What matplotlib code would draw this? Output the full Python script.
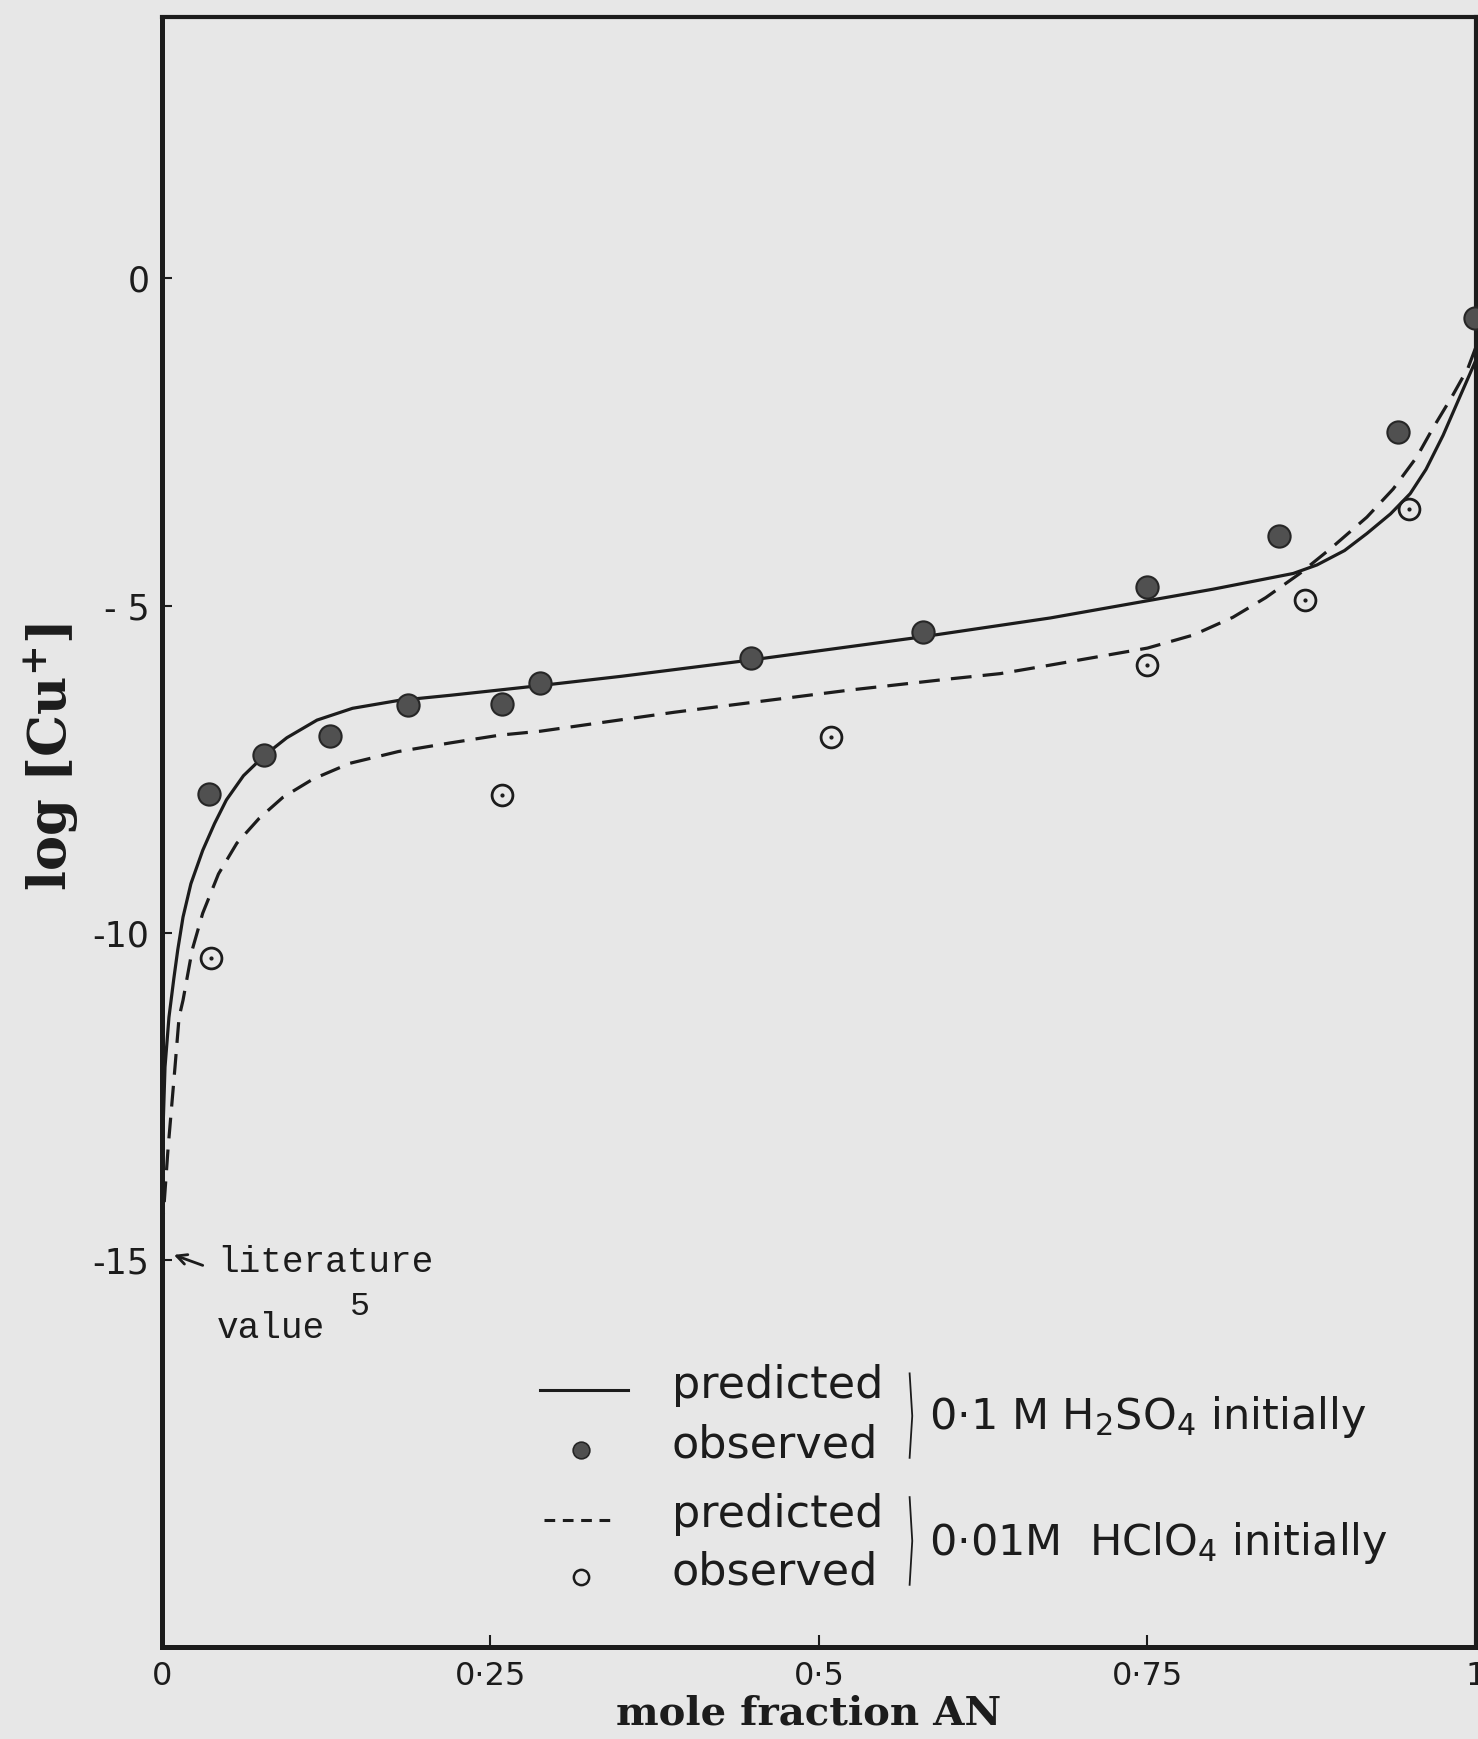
'''log[Cu+] against mole fraction of AN: predicted curves and observed points
for the two starting acid solutions (recreated from a scanned thesis figure)'''

import matplotlib
matplotlib.use('Agg')
import matplotlib.pyplot as plt

# predicted curve, 0.1M H2SO4 initially (solid)
pred_h2so4_x = [0.0, 0.0008, 0.0023, 0.0053, 0.009, 0.012, 0.016, 0.022, 0.031, 0.040,
                0.049, 0.062, 0.078, 0.095, 0.118, 0.145, 0.18, 0.22, 0.257, 0.289,
                0.35, 0.449, 0.578, 0.676, 0.752, 0.80, 0.861, 0.879, 0.90, 0.917,
                0.935, 0.950, 0.962, 0.975, 0.988, 1.0]
pred_h2so4_y = [-14.3, -13.0, -12.05, -11.29, -10.7, -10.26, -9.76, -9.25, -8.74, -8.33,
                -7.97, -7.60, -7.29, -7.02, -6.75, -6.57, -6.45, -6.37, -6.29, -6.22,
                -6.08, -5.83, -5.48, -5.19, -4.92, -4.75, -4.51, -4.38, -4.16, -3.90,
                -3.60, -3.29, -2.92, -2.40, -1.80, -1.25]

# predicted curve, 0.01M HClO4 initially (dashed)
pred_hclo4_x = [0.0, 0.0046, 0.0099, 0.013, 0.016, 0.023, 0.031, 0.043, 0.057, 0.074,
                0.092, 0.115, 0.143, 0.18, 0.219, 0.257, 0.288, 0.390, 0.524, 0.60,
                0.638, 0.676, 0.75, 0.785, 0.815, 0.84, 0.866, 0.89, 0.917, 0.937,
                0.955, 0.967, 0.982, 0.994, 1.0]
pred_hclo4_y = [-14.6, -13.3, -12.05, -11.29, -11.03, -10.26, -9.70, -9.10, -8.63, -8.25,
                -7.93, -7.65, -7.41, -7.23, -7.10, -6.98, -6.92, -6.63, -6.29, -6.12,
                -6.04, -5.91, -5.65, -5.45, -5.18, -4.88, -4.51, -4.12, -3.65, -3.22,
                -2.73, -2.30, -1.80, -1.37, -1.05]

# observed points
obs_h2so4_x = [0.036, 0.078, 0.128, 0.187, 0.259, 0.288, 0.448, 0.579, 0.750, 0.850, 0.941, 0.999]
obs_h2so4_y = [-7.88, -7.29, -7.00, -6.52, -6.51, -6.19, -5.80, -5.40, -4.72, -3.94, -2.35, -0.61]
obs_hclo4_x = [0.037, 0.259, 0.509, 0.750, 0.870, 0.949]
obs_hclo4_y = [-10.39, -7.90, -7.01, -5.91, -4.92, -3.53]

xticks = [0, 0.25, 0.5, 0.75, 1]
xticklabels = ['0', '0\u00b725', '0\u00b75', '0\u00b775', '1']
yticks = [0, -5, -10, -15]
yticklabels = ['0', '- 5', '-10', '-15']

paper = '#e7e7e7'
ink = '#1c1c1c'

plt.rcParams['font.family'] = ['DejaVu Sans']
plt.rcParams['mathtext.fontset'] = 'custom'
plt.rcParams['mathtext.rm'] = 'DejaVu Sans'
plt.rcParams['mathtext.bf'] = 'DejaVu Serif:bold'

fig = plt.figure(figsize=(14.78, 17.39), dpi=100, facecolor=paper)
ax = fig.add_axes([0.1096, 0.0529, 0.8890, 0.9373])
ax.set_facecolor(paper)
ax.set_xlim(0, 1)
ax.set_ylim(-20.91, 3.99)

ax.plot(pred_h2so4_x, pred_h2so4_y, color=ink, lw=2.3)
ax.plot(pred_hclo4_x, pred_hclo4_y, color=ink, lw=2.3, linestyle=(0, (6.5, 3.5)))
ax.plot(obs_h2so4_x, obs_h2so4_y, 'o', ms=16, mfc='#505050', mec='#262626', mew=1.5,
        clip_on=False, zorder=3)
ax.plot(obs_hclo4_x, obs_hclo4_y, 'o', ms=15, mfc='none', mec=ink, mew=2.0, zorder=3)
ax.plot(obs_hclo4_x, obs_hclo4_y, '.', ms=4, color=ink, zorder=3)

# axes frame and ticks
for side in ['left', 'bottom']:
    ax.spines[side].set_linewidth(3.6)
for side in ['top', 'right']:
    ax.spines[side].set_linewidth(3.0)
for sp in ax.spines.values():
    sp.set_color(ink)

ax.set_xticks(xticks)
ax.set_xticklabels(xticklabels)
ax.set_yticks(yticks)
ax.set_yticklabels(yticklabels)
ax.tick_params(axis='x', direction='in', length=8.5, width=1.5, color=ink,
               labelsize=23, pad=10, labelcolor=ink)
ax.tick_params(axis='y', direction='in', length=7, width=1.5, color=ink,
               labelsize=25, pad=9, labelcolor=ink)

ax.set_xlabel('mole fraction AN', family='DejaVu Serif', weight='bold', fontsize=29, color=ink)
ax.xaxis.set_label_coords(0.492, -0.029)
ax.set_ylabel(r'$\mathbf{log\ [Cu^{+}]}$', fontsize=38, color=ink)
ax.yaxis.set_label_coords(-0.062, 0.546)

# literature value annotation
ax.annotate('', xy=(0.009, -14.92), xytext=(0.031, -15.08),
            arrowprops=dict(arrowstyle='->', color=ink, lw=2.0,
                            mutation_scale=18, shrinkA=0, shrinkB=0))
ax.text(0.042, -15.18, 'literature', family='Liberation Mono', fontsize=26,
        va='baseline', color=ink)
ax.text(0.042, -16.19, 'value', family='Liberation Mono', fontsize=26,
        va='baseline', color=ink)
ax.text(0.143, -15.84, '5', family='Liberation Mono', fontsize=24,
        va='baseline', color=ink)

# legend drawn by hand, like the original
ax.plot([0.288, 0.355], [-16.98, -16.98], color=ink, lw=2.2)
ax.plot([0.291, 0.342], [-18.97, -18.97], color=ink, lw=2.2, linestyle=(0, (3.5, 2.5)))
ax.plot([0.319], [-17.90], 'o', ms=12, mfc='#505050', mec='#262626', mew=1.2)
ax.plot([0.319], [-19.84], 'o', ms=11, mfc='none', mec=ink, mew=1.8)
for yb in [-17.11, -19.08]:
    ax.text(0.388, yb, 'predicted', fontsize=32, va='baseline', color=ink)
for yb in [-18.01, -19.96]:
    ax.text(0.388, yb, 'observed', fontsize=32, va='baseline', color=ink)
ax.plot([0.569, 0.571, 0.569], [-16.73, -17.38, -18.02], color=ink, lw=1.3)
ax.plot([0.569, 0.571, 0.569], [-18.62, -19.29, -19.96], color=ink, lw=1.3)
ax.text(0.584, -17.40, '0\u00b71 M H$_{\\mathrm{2}}$SO$_{\\mathrm{4}}$ initially',
        fontsize=31, va='center', color=ink)
ax.text(0.584, -19.32, '0\u00b701M  HClO$_{\\mathrm{4}}$ initially',
        fontsize=31, va='center', color=ink)

fig.savefig('out.png', dpi=100, facecolor=paper)
